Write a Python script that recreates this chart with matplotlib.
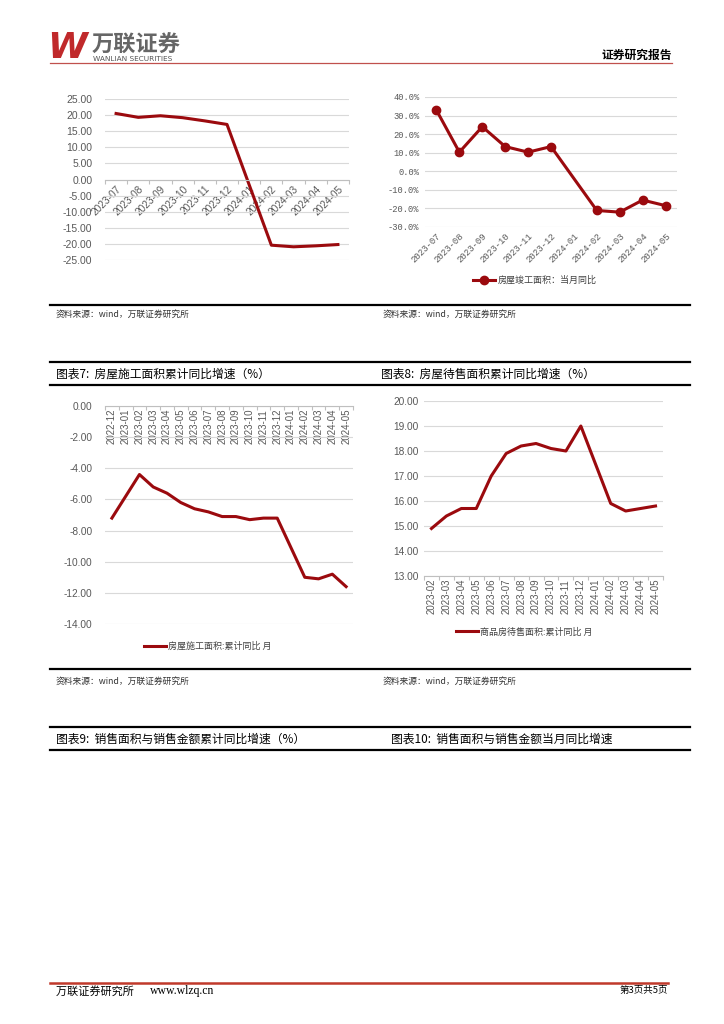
import numpy as np
import matplotlib
matplotlib.use("Agg")
import matplotlib.pyplot as plt
from matplotlib.lines import Line2D

plt.rcParams['font.family'] = ['Noto Sans CJK SC', 'DejaVu Sans']
plt.rcParams['axes.unicode_minus'] = False

# ---------------- data ----------------
c5_labels = ["2023-07", "2023-08", "2023-09", "2023-10", "2023-11", "2023-12",
             "2024-01", "2024-02", "2024-03", "2024-04", "2024-05"]
c5_values = [20.5, 19.3, 19.8, 19.2, 18.2, 17.1, np.nan, -20.4, -20.9, -20.6, -20.2]
c5_yticks = [25, 20, 15, 10, 5, 0, -5, -10, -15, -20, -25]

c6_labels = c5_labels
c6_values = [32.9, 10.3, 24.0, 13.3, 10.3, 13.3, np.nan, -21.1, -22.0, -15.5, -18.5]
c6_yticks = [40, 30, 20, 10, 0, -10, -20, -30]
c6_legend = "房屋竣工面积：当月同比"

c7_labels = ["2022-12", "2023-01", "2023-02", "2023-03", "2023-04", "2023-05",
             "2023-06", "2023-07", "2023-08", "2023-09", "2023-10", "2023-11",
             "2023-12", "2024-01", "2024-02", "2024-03", "2024-04", "2024-05"]
c7_values = [-7.2, np.nan, -4.4, -5.2, -5.6, -6.2, -6.6, -6.8, -7.1, -7.1,
             -7.3, -7.2, -7.2, np.nan, -11.0, -11.1, -10.8, -11.6]
c7_yticks = [0, -2, -4, -6, -8, -10, -12, -14]
c7_legend = "房屋施工面积:累计同比 月"

c8_labels = ["2023-02", "2023-03", "2023-04", "2023-05", "2023-06", "2023-07",
             "2023-08", "2023-09", "2023-10", "2023-11", "2023-12", "2024-01",
             "2024-02", "2024-03", "2024-04", "2024-05"]
c8_values = [14.9, 15.4, 15.7, 15.7, 17.0, 17.9, 18.2, 18.3, 18.1, 18.0,
             19.0, np.nan, 15.9, 15.6, 15.7, 15.8]
c8_yticks = [20, 19, 18, 17, 16, 15, 14, 13]
c8_legend = "商品房待售面积:累计同比 月"

source_text = "资料来源：wind，万联证券研究所"
title7 = "图表7:  房屋施工面积累计同比增速（%）"
title8 = "图表8:  房屋待售面积累计同比增速（%）"
title9 = "图表9:  销售面积与销售金额累计同比增速（%）"
title10 = "图表10:  销售面积与销售金额当月同比增速"

# ---------------- figure ----------------
W, H = 724, 1024
fig = plt.figure(figsize=(W / 100, H / 100), dpi=100)
fig.patch.set_facecolor("white")

RED = "#9B0A0E"
GRID = "#d9d9d9"
TICKC = "#595959"


def fx(x):
    return x / W


def fy(y):
    return 1 - y / H


def add_ax(l, t, r, b):
    return fig.add_axes([fx(l), fy(b), fx(r) - fx(l), (b - t) / H])


def hline(y, x0, x1, color="black", lw=1.5):
    fig.add_artist(Line2D([fx(x0), fx(x1)], [fy(y), fy(y)], color=color, lw=lw,
                          transform=fig.transFigure))


def text(x, y, s, **kw):
    fig.text(fx(x), fy(y), s, **kw)


def setup_cat(ax, labels, rot, lab_font, lab_size, tick_len, pad, ha="center", va="top",
              anchor=False):
    n = len(labels)
    ax.set_xlim(-0.5, n - 0.5)
    ax.set_xticks(np.arange(n + 1) - 0.5)
    ax.set_xticklabels([])
    ax.set_xticks(np.arange(n), minor=True)
    ax.set_xticklabels(labels, minor=True, rotation=rot, fontsize=lab_size,
                       color=TICKC, family=lab_font, ha=ha, va=va,
                       rotation_mode="anchor" if anchor else "default")
    ax.tick_params(axis="x", which="minor", length=0, pad=pad)
    ax.tick_params(axis="x", which="major", length=tick_len, color="#bfbfbf", width=0.8)


def plot_series(ax, values, **kw):
    v = np.array(values, dtype=float)
    x = np.arange(len(v))
    m = np.isfinite(v)
    return ax.plot(x[m], v[m], **kw)


# ---------------- header ----------------
text(47, 48, "W", fontsize=26, color="#C0292B", weight="bold", style="italic",
     family="DejaVu Sans", va="center", ha="left")
text(92, 45, "万联证券", fontsize=16, color="#666666", weight="bold", va="center", ha="left")
text(93, 59, "WANLIAN SECURITIES", fontsize=5.3, color="#555555", va="center", ha="left",
     family="DejaVu Sans")
text(672, 55, "证券研究报告", fontsize=8.5, color="black", weight="bold", va="center", ha="right")
hline(63, 50, 672, color="#C0504D", lw=0.9)

# ---------------- chart 5 (top-left) ----------------
ax5 = add_ax(105, 99, 349, 260)
plot_series(ax5, c5_values, color=RED, lw=2.2, solid_joinstyle="round")
ax5.set_ylim(-25, 25)
ax5.set_yticks(c5_yticks)
ax5.set_yticklabels([f"{v:.2f}" for v in c5_yticks], fontsize=7.5, color=TICKC,
                    family="Liberation Sans")
ax5.tick_params(axis="y", length=0, pad=9)
ax5.yaxis.grid(True, color=GRID, lw=0.8)
ax5.set_axisbelow(True)
for s in ["top", "right", "left"]:
    ax5.spines[s].set_visible(False)
ax5.spines["bottom"].set_position(("data", 0))
ax5.spines["bottom"].set_color("#bfbfbf")
ax5.spines["bottom"].set_linewidth(0.8)
setup_cat(ax5, c5_labels, 45, "Liberation Sans", 7.3, 3, 3, ha="right", va="top", anchor=True)

# ---------------- chart 6 (top-right) ----------------
ax6 = add_ax(425, 97, 677, 227)
l6, = plot_series(ax6, c6_values, color=RED, lw=2.2, marker="o", markersize=6,
                  label=c6_legend)
ax6.set_ylim(-30, 40)
ax6.set_yticks(c6_yticks)
ax6.set_yticklabels([f"{v:.1f}%" for v in c6_yticks], fontsize=6.3, color=TICKC,
                    family="Liberation Mono")
ax6.tick_params(axis="y", length=0, pad=4)
ax6.yaxis.grid(True, color=GRID, lw=0.8)
ax6.set_axisbelow(True)
for s in ax6.spines.values():
    s.set_visible(False)
setup_cat(ax6, c6_labels, 45, "Liberation Mono", 6.5, 0, 3, ha="right", va="top", anchor=True)
fig.legend(handles=[l6], loc="center left", bbox_to_anchor=(fx(465), fy(280)),
           frameon=False, fontsize=6.5, handlelength=2.4, handletextpad=0.3,
           labelcolor="#404040")

# ---------------- chart 7 (mid-left) ----------------
ax7 = add_ax(105, 406, 353, 624)
l7, = plot_series(ax7, c7_values, color=RED, lw=2.2, label=c7_legend)
ax7.set_ylim(-14, 0)
ax7.set_yticks(c7_yticks)
ax7.set_yticklabels([f"{v:.2f}" for v in c7_yticks], fontsize=7.3, color=TICKC,
                    family="Liberation Sans")
ax7.tick_params(axis="y", length=0, pad=9)
ax7.yaxis.grid(True, color=GRID, lw=0.8)
ax7.set_axisbelow(True)
for s in ["top", "right", "left"]:
    ax7.spines[s].set_visible(False)
ax7.spines["bottom"].set_position(("data", 0))
ax7.spines["bottom"].set_color("#bfbfbf")
ax7.spines["bottom"].set_linewidth(0.8)
setup_cat(ax7, c7_labels, 90, "Liberation Sans", 7, 3, 2)
fig.legend(handles=[l7], loc="center left", bbox_to_anchor=(fx(136), fy(646)),
           frameon=False, fontsize=6.5, handlelength=2.4, handletextpad=0.3,
           labelcolor="#404040")

# ---------------- chart 8 (mid-right) ----------------
ax8 = add_ax(424, 401, 663, 576)
l8, = plot_series(ax8, c8_values, color=RED, lw=2.2, label=c8_legend)
ax8.set_ylim(13, 20)
ax8.set_yticks(c8_yticks)
ax8.set_yticklabels([f"{v:.2f}" for v in c8_yticks], fontsize=7.3, color=TICKC,
                    family="Liberation Sans")
ax8.tick_params(axis="y", length=0, pad=4)
ax8.yaxis.grid(True, color=GRID, lw=0.8)
ax8.set_axisbelow(True)
for s in ["top", "right", "left"]:
    ax8.spines[s].set_visible(False)
ax8.spines["bottom"].set_color("#bfbfbf")
ax8.spines["bottom"].set_linewidth(0.8)
setup_cat(ax8, c8_labels, 90, "Liberation Sans", 7, 3, 2)
fig.legend(handles=[l8], loc="center left", bbox_to_anchor=(fx(448), fy(632)),
           frameon=False, fontsize=6.5, handlelength=2.4, handletextpad=0.3,
           labelcolor="#404040")

# ---------------- separators, sources, titles ----------------
hline(305, 50, 690, lw=1.6)
text(56, 314, source_text, fontsize=6.3, color="#333333", va="center", style="italic")
text(383, 314, source_text, fontsize=6.3, color="#333333", va="center", style="italic")
hline(362, 50, 690, lw=1.6)
text(56, 374, title7, fontsize=8.5, color="black", va="center")
text(381, 374, title8, fontsize=8.5, color="black", va="center")
hline(385, 50, 690, lw=1.6)

hline(669, 50, 690, lw=1.6)
text(56, 681, source_text, fontsize=6.3, color="#333333", va="center", style="italic")
text(383, 681, source_text, fontsize=6.3, color="#333333", va="center", style="italic")
hline(727, 50, 690, lw=1.6)
text(56, 739, title9, fontsize=8.5, color="black", va="center")
text(391, 739, title10, fontsize=8.5, color="black", va="center")
hline(750, 50, 690, lw=1.6)

# ---------------- footer ----------------
hline(983, 50, 668, color="#C0392B", lw=1.8)
text(56, 991, "万联证券研究所 ", fontsize=8, color="black", va="center")
text(150, 991, "www.wlzq.cn", fontsize=8.5, color="black", va="center", family="Liberation Serif")
text(668, 990, "第3页共5页", fontsize=6.8, color="black", va="center", ha="right")

fig.savefig("out.png", dpi=100, facecolor="white")
